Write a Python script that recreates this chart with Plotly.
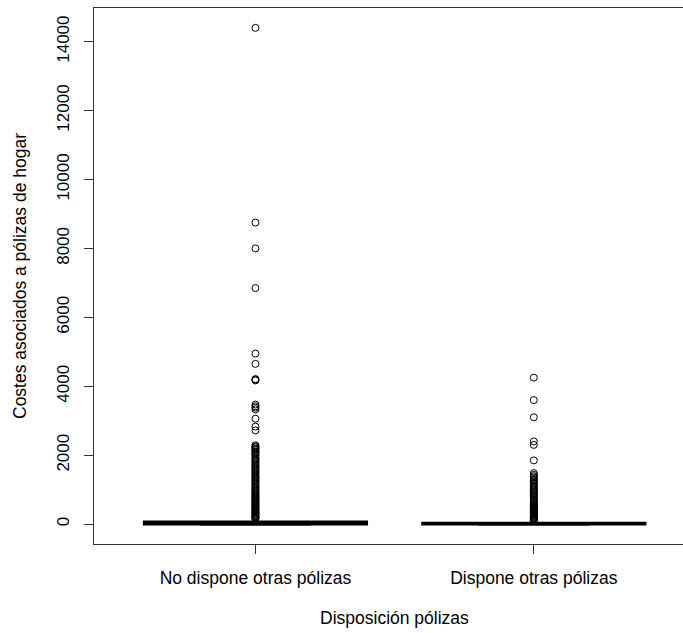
import plotly.graph_objects as go

# Groups and box statistics
groups = ["No dispone otras pólizas", "Dispone otras pólizas"]
positions = [1, 2]
q1 = [0, 0]
median = [45, 15]
q3 = [70, 35]
lower_fence = [0, 0]
upper_fence = [140, 85]

# Y axis ticks
y_ticks = [0, 2000, 4000, 6000, 8000, 10000, 12000, 14000]
y_tick_labels = ["0", "2000", "4000", "6000", "8000", "10000", "12000", "14000"]

# Outlying costs per group
outliers_no = [
    14400, 8750, 8000, 6850, 4950, 4650, 4210, 4190, 4170,
    3470, 3420, 3380, 3330, 3060, 2830, 2720,
    2290, 2250, 2230, 2190, 2170, 2150, 2110, 2080, 2060, 2020, 1990,
    1940, 1900, 1870, 1830, 1800, 1760, 1730, 1690, 1660, 1620, 1590,
    1550, 1520, 1480, 1450, 1410, 1380, 1350, 1320,
    1280, 1250, 1220, 1180, 1150, 1110, 1080, 1050, 1010, 980, 950,
    920, 890, 860, 830, 800, 770, 745, 720, 690, 660, 640, 610, 585,
    560, 530, 505, 480, 455, 430, 410, 385, 360, 340, 315, 295, 270,
    250, 230, 210, 190, 175, 160,
]
outliers_si = [
    4250, 3600, 3100, 2400, 2300, 1850,
    1480, 1430, 1390, 1350, 1310, 1280, 1240, 1200, 1170, 1130, 1090,
    1050, 1010, 980, 940, 900, 870, 840, 810,
    760, 730, 700, 670, 640, 610, 585, 560, 530, 505, 480, 455, 430,
    410, 385, 360, 340, 315, 295, 270, 250, 230, 210, 190, 170, 150,
    130, 115, 100,
]
outliers = [outliers_no, outliers_si]

FONT = "Liberation Sans, Arial, sans-serif"
AXIS_COLOR = "#333333"

fig = go.Figure()

# Boxes (collapsed near zero, drawn with heavy outline)
fig.add_trace(go.Box(
    x=positions, q1=q1, median=median, q3=q3,
    lowerfence=lower_fence, upperfence=upper_fence,
    width=0.8, whiskerwidth=0, boxpoints=False,
    line=dict(color="black", width=2.5), fillcolor="white",
    hoverinfo="skip",
))

# Lower whisker staples, half the box width
for pos, lo in zip(positions, lower_fence):
    fig.add_trace(go.Scatter(
        x=[pos - 0.2, pos + 0.2], y=[lo, lo], mode="lines",
        line=dict(color="black", width=2.5), hoverinfo="skip",
    ))

# Outliers as open circles
for pos, vals in zip(positions, outliers):
    fig.add_trace(go.Scatter(
        x=[pos] * len(vals), y=vals, mode="markers",
        marker=dict(symbol="circle-open", size=7, color="black",
                    line=dict(color="black", width=1)),
        hoverinfo="y",
    ))

ymax = 14400
pad = ymax * 0.04

fig.update_layout(
    width=683, height=633,
    margin=dict(l=94, r=0, t=8, b=89),
    plot_bgcolor="white", paper_bgcolor="white",
    showlegend=False,
    font=dict(family=FONT, size=17.5, color="black"),
    xaxis=dict(
        range=[0.42, 2.536], tickvals=positions, ticktext=groups,
        ticks="outside", ticklen=9, tickcolor=AXIS_COLOR,
        ticklabelstandoff=9,
        showline=True, linecolor=AXIS_COLOR, linewidth=1, mirror=True,
        showgrid=False, zeroline=False,
    ),
    yaxis=dict(
        range=[-pad, ymax + pad], tickvals=y_ticks, ticktext=y_tick_labels,
        tickangle=-90, ticks="outside", ticklen=9, tickcolor=AXIS_COLOR,
        ticklabelstandoff=8, tickfont=dict(size=17),
        showline=True, linecolor=AXIS_COLOR, linewidth=1,
        showgrid=False, zeroline=False,
    ),
    annotations=[
        dict(text="Costes asociados a pólizas de hogar", textangle=-90,
             xref="paper", yref="paper", x=(20 - 94) / 589, y=0.5,
             xanchor="center", yanchor="middle", showarrow=False,
             font=dict(family=FONT, size=17.5, color="black")),
        dict(text="Disposición pólizas",
             xref="x", yref="paper", x=1.5, y=(544 - 618) / 536,
             xanchor="center", yanchor="middle", showarrow=False,
             font=dict(family=FONT, size=17.5, color="black")),
    ],
)

fig.write_html("out.html")
